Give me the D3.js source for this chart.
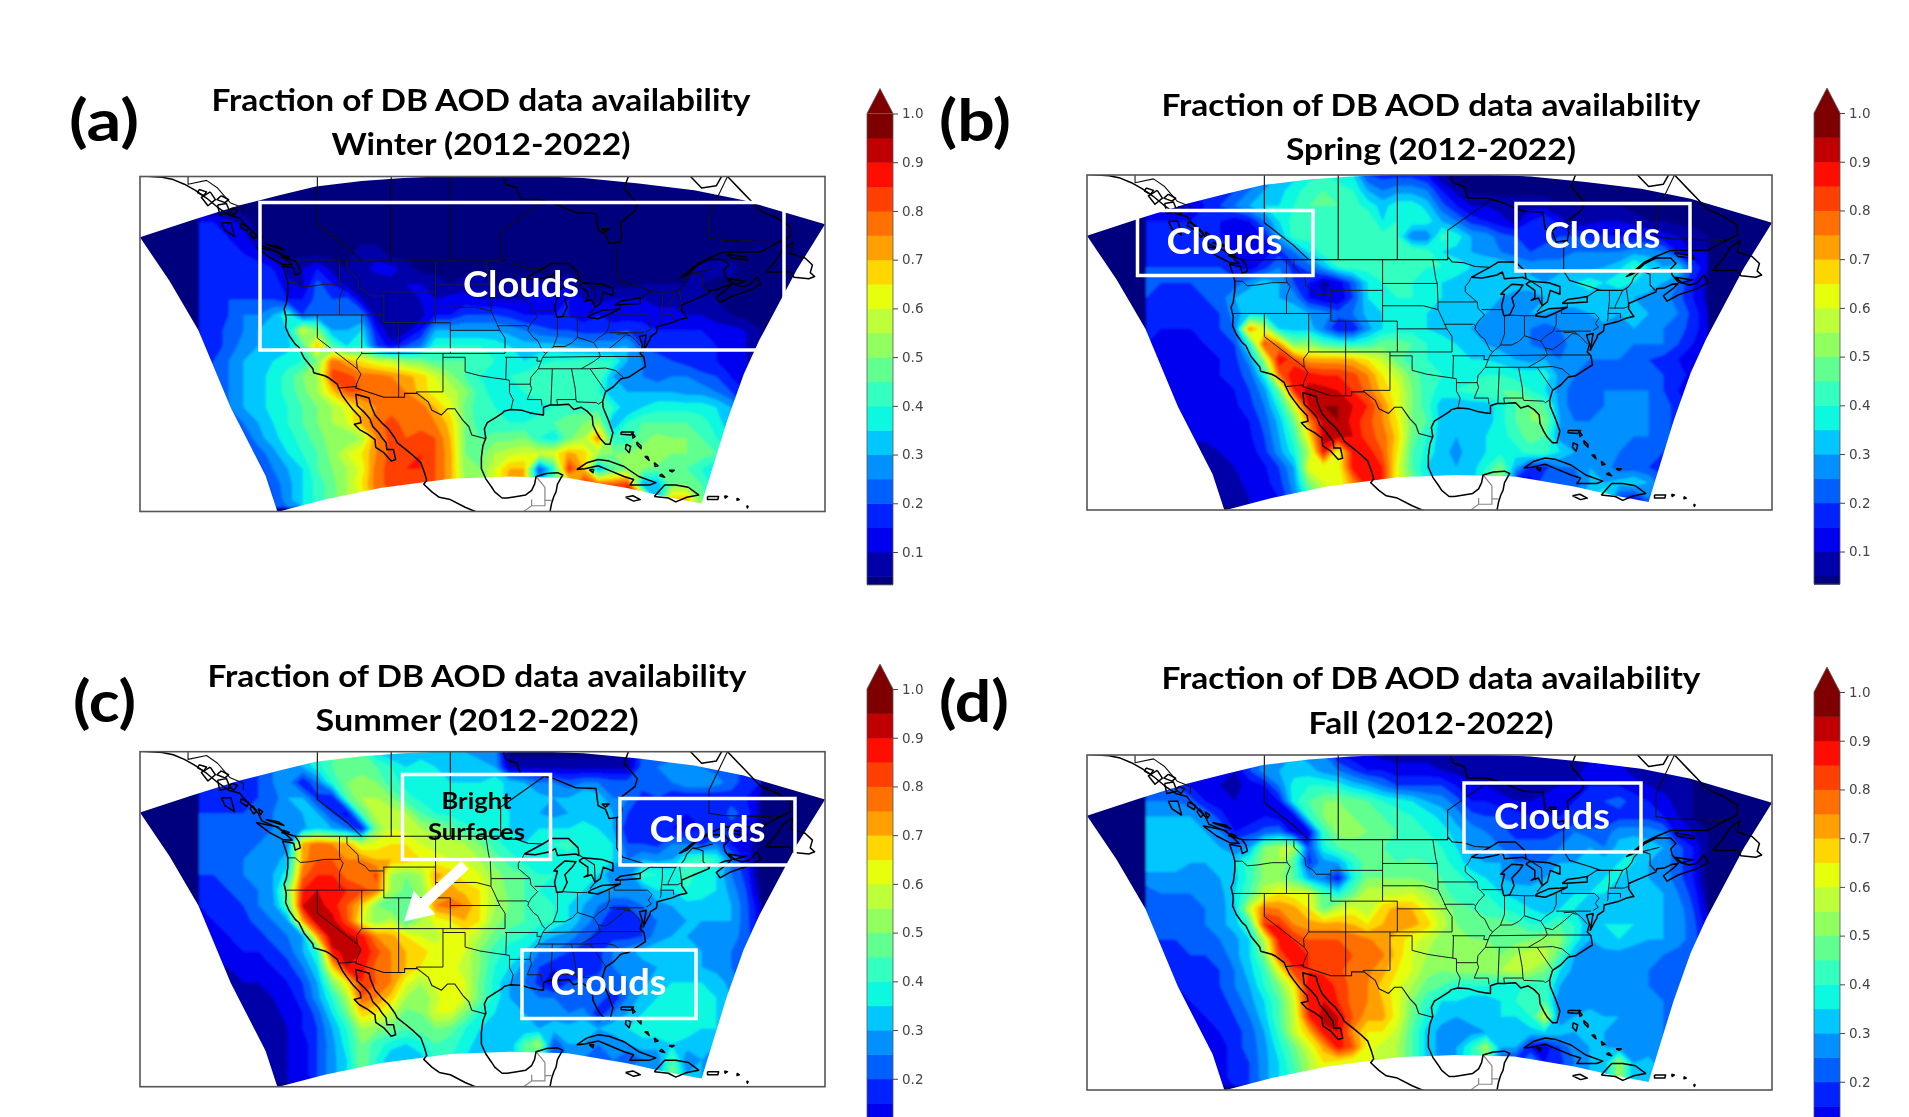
<!DOCTYPE html>
<html><head><meta charset="utf-8">
<script src="https://cdn.jsdelivr.net/npm/d3@7"></script>
<style>html,body{margin:0;padding:0;background:#fff;overflow:hidden}svg{display:block}text{font-family:Lato,"Noto Sans",sans-serif}</style>
</head><body><svg id="c" width="1909" height="1117"></svg>
<script>
// ---------- value grids: availability in hundredths, rows lat 60..18 (2 deg), cols lon -136..-60 (2 deg)
const gridLons = d3.range(-136, -58, 2);
const gridLats = d3.range(60, 16, -2);
const winter = [
[3,3,3,3,3,3,3,3,3,3,3,3,3,3,3,3,3,3,3,3,3,3,3,3,3,3,3,3,3,3,3,3,3,3,3,3,3,3,3],
[3,3,3,3,3,3,3,3,3,3,3,3,3,3,3,3,3,3,3,3,3,3,3,3,3,3,3,3,3,3,3,3,3,3,3,3,3,3,3],
[3,3,3,3,3,3,3,3,3,3,3,3,3,3,3,3,3,3,3,3,3,3,3,3,3,3,3,3,3,3,3,3,3,3,3,3,3,3,3],
[15,15,12,8,3,3,3,3,3,3,3,3,3,3,3,3,3,3,3,3,3,3,3,3,3,3,3,3,3,3,3,3,3,3,3,3,3,3,3],
[15,15,15,12,5,3,3,3,3,3,3,3,3,3,3,3,3,3,3,3,3,3,3,3,3,3,3,3,3,3,3,3,3,3,3,3,3,3,3],
[15,15,15,15,12,5,3,3,3,3,3,8,8,3,3,3,3,3,3,3,3,3,3,3,3,3,3,3,3,3,3,3,3,3,3,3,3,3,3],
[15,17,18,18,18,15,8,10,15,8,5,8,12,12,8,3,3,3,3,3,3,3,3,3,3,3,3,3,3,3,3,3,3,3,7,7,7,3,3],
[15,17,18,18,18,18,12,8,22,15,8,5,5,8,10,10,8,5,8,8,5,5,8,10,5,10,5,3,3,3,5,5,5,5,5,3,3,3,3],
[15,17,20,20,20,20,15,15,22,20,22,10,5,5,5,10,10,12,12,10,10,10,10,10,12,15,10,8,10,10,10,8,8,8,5,5,3,3,3],
[15,17,20,25,25,30,40,20,25,25,25,25,8,5,5,8,15,15,20,20,20,18,15,15,15,15,12,15,12,12,12,12,12,10,10,8,5,3,3],
[15,17,22,25,30,30,35,60,50,30,30,35,15,5,8,15,30,30,30,30,30,28,25,22,20,20,18,18,18,20,18,15,15,15,15,12,12,10,5],
[15,17,22,27,30,32,33,45,70,45,35,40,20,12,20,25,40,40,40,40,38,35,32,32,32,30,28,28,28,30,20,18,18,15,15,15,12,10,5],
[18,20,25,30,32,35,38,40,50,78,72,65,60,58,52,50,45,45,45,42,40,37,35,38,40,40,42,40,40,30,25,22,20,18,15,15,12,10,8],
[20,22,25,30,33,37,42,50,55,82,82,78,78,75,72,68,60,52,45,40,38,40,42,45,45,45,45,45,30,28,25,22,25,25,22,20,15,12,10],
[20,22,25,30,33,37,42,48,55,68,80,80,80,78,75,68,62,58,52,42,38,38,40,42,42,42,42,40,30,30,30,30,30,28,28,25,20,15,12],
[20,20,25,30,33,37,40,45,50,55,62,70,75,78,78,78,70,62,48,42,40,38,38,38,40,42,42,42,40,30,35,38,38,38,38,35,30,20,15],
[15,18,20,25,30,35,40,45,50,55,60,72,78,82,78,78,75,68,50,42,40,40,40,42,45,48,50,55,30,40,45,45,45,45,42,38,30,25,15],
[10,12,15,20,28,33,38,42,48,52,50,55,75,82,80,82,80,70,50,45,48,48,50,40,35,48,55,75,40,42,48,52,50,50,45,40,35,25,15],
[8,10,12,15,22,28,35,40,45,52,60,65,75,82,82,85,80,72,50,48,55,58,60,60,62,72,68,55,50,50,52,55,50,50,48,45,40,30,20],
[5,8,10,12,18,25,30,35,45,50,55,62,78,82,85,85,80,72,52,50,60,70,70,20,40,85,70,30,45,50,50,48,45,45,40,35,30,20,15],
[3,5,8,10,15,22,28,35,42,48,55,65,78,82,82,82,80,72,55,50,60,75,70,30,50,60,85,80,80,85,30,30,50,50,45,35,30,20,15],
[3,5,8,10,15,20,28,35,42,48,55,60,75,78,78,78,75,70,55,50,60,75,70,30,50,60,70,80,85,85,85,30,70,70,50,35,30,20,15]
];
const spring = [
[15,15,15,15,15,15,15,20,25,30,33,38,40,38,35,20,18,18,18,15,5,3,3,3,3,3,3,3,3,3,3,3,3,3,3,3,3,3,3],
[10,12,15,15,15,15,20,25,30,33,38,42,45,42,40,30,25,28,28,25,15,8,3,3,3,3,3,3,3,3,3,3,3,3,3,3,3,3,3],
[10,12,12,12,15,20,25,30,35,35,40,45,45,45,42,38,33,38,38,33,22,15,10,10,8,8,8,8,5,5,5,5,5,3,3,3,3,3,3],
[15,15,15,15,15,15,12,15,25,35,42,42,42,42,42,45,35,40,38,38,30,25,18,15,12,8,15,20,12,5,8,10,10,8,5,5,3,3,3],
[15,15,18,18,18,15,12,8,15,30,42,42,42,42,42,42,42,40,25,25,42,38,30,28,22,20,18,18,20,20,18,15,15,15,15,12,10,8,5],
[18,18,18,18,18,18,15,10,12,18,25,35,42,42,42,45,42,42,45,42,35,33,30,28,25,22,20,22,22,25,25,25,25,28,28,25,15,10,10],
[20,20,20,20,20,20,15,12,18,25,18,22,30,40,42,42,42,42,42,40,40,38,35,35,35,32,28,28,28,28,28,30,33,42,35,30,35,20,10],
[20,20,20,20,22,22,22,28,33,30,20,15,8,12,22,35,40,40,40,38,35,33,33,32,30,32,32,30,33,35,38,35,38,35,33,30,25,15,8],
[20,18,18,18,20,22,30,33,33,30,28,15,10,10,20,35,38,40,40,38,35,33,33,30,30,28,28,30,33,33,32,32,30,30,28,28,22,15,8],
[18,15,15,15,18,20,28,33,33,33,33,30,28,22,25,32,35,38,38,35,33,32,30,30,28,30,30,30,28,28,30,33,30,30,30,28,25,18,10],
[15,15,15,15,15,20,25,75,60,35,33,33,25,15,15,28,35,38,38,35,33,30,30,28,25,25,25,22,25,30,28,28,28,30,28,25,22,18,10],
[15,13,13,13,15,18,20,40,82,75,50,52,45,42,40,42,48,48,45,40,38,35,33,30,28,28,25,22,22,28,25,25,25,25,25,25,20,15,10],
[13,13,13,13,13,15,18,28,55,90,82,72,72,72,70,65,58,47,42,40,38,35,35,35,33,30,28,30,25,25,25,25,25,22,20,18,15,12,8],
[13,13,13,13,13,15,18,22,38,78,90,88,85,85,82,75,65,58,48,42,40,38,38,40,40,38,38,38,28,25,22,22,22,22,22,20,18,12,8],
[13,13,13,13,13,14,15,20,28,48,85,92,92,90,85,78,68,62,50,42,38,40,42,45,45,45,40,35,28,22,22,25,25,25,25,20,15,12,8],
[13,13,11,11,12,13,14,18,25,38,60,90,95,95,90,85,75,62,50,42,32,30,32,32,38,45,50,45,28,22,22,25,28,25,25,22,18,12,8],
[11,11,11,11,11,12,13,15,22,32,48,75,92,95,88,82,75,65,50,45,32,30,30,32,38,45,50,50,30,25,25,28,28,28,25,22,18,12,8],
[11,11,11,11,11,11,12,14,20,30,42,65,92,92,90,82,78,68,48,40,32,30,32,35,38,42,48,45,28,25,25,28,25,25,25,22,18,12,8],
[8,8,8,8,8,10,10,12,18,28,38,55,88,62,88,88,80,65,45,38,32,28,33,35,38,38,42,42,35,30,28,30,25,22,22,20,18,12,8],
[5,6,6,6,7,7,10,12,14,20,30,62,62,62,88,90,85,62,45,35,32,30,32,40,50,30,18,18,25,25,30,28,22,22,20,18,15,12,8],
[3,3,5,5,6,6,9,11,13,18,28,50,60,60,75,90,85,62,50,38,32,30,32,45,55,15,12,25,20,22,30,30,32,35,30,22,18,12,8],
[3,3,5,5,5,5,8,10,12,15,25,40,55,60,72,88,85,62,50,38,32,30,32,45,55,15,12,25,20,25,35,45,20,15,25,22,18,12,8]
];
const summer = [
[15,15,15,15,18,22,30,35,40,45,48,45,35,30,30,30,30,30,30,28,28,3,3,3,3,3,3,3,3,3,22,22,22,22,22,20,20,15,15],
[12,12,15,18,20,25,28,30,38,45,48,48,45,40,35,40,35,33,33,32,30,8,8,8,8,8,8,8,8,8,22,25,28,28,25,22,22,18,15],
[15,15,15,15,20,25,28,15,25,40,50,52,50,42,38,38,38,35,35,35,38,33,30,25,25,22,25,25,22,22,22,22,25,30,30,28,22,18,15],
[18,18,18,18,20,22,30,30,18,15,45,55,55,50,42,38,38,38,35,35,38,33,32,32,30,30,35,33,25,25,18,20,15,15,15,15,18,15,8],
[20,20,20,20,22,25,25,30,30,20,12,45,58,58,55,45,40,38,35,35,38,35,32,30,28,30,32,32,30,20,15,15,15,15,15,15,22,18,8],
[20,20,20,20,22,25,25,28,35,30,25,15,50,60,58,55,52,48,42,40,38,35,33,35,35,35,38,35,30,15,18,15,15,12,15,15,18,12,5],
[22,22,22,22,25,25,28,72,78,75,72,58,62,65,65,60,58,58,55,50,42,38,35,38,40,42,38,38,35,20,20,18,25,25,18,25,15,12,3],
[20,20,22,25,25,28,32,72,80,80,75,75,70,70,70,65,62,60,60,55,48,42,38,38,38,38,38,40,35,25,30,28,30,40,45,40,25,15,3],
[20,20,22,25,28,30,38,78,85,85,78,75,82,55,50,55,72,68,62,60,52,48,45,40,40,35,38,35,25,25,42,40,38,42,38,35,25,18,3],
[18,18,20,22,25,30,50,85,90,85,85,82,78,55,48,52,68,72,68,65,55,48,45,40,38,35,35,30,30,30,28,35,35,40,38,35,28,20,5],
[15,15,18,20,25,28,45,90,92,88,80,68,50,45,45,50,75,78,75,65,55,50,45,42,40,35,30,25,20,20,25,28,30,33,33,33,30,22,10],
[12,15,15,18,22,25,30,72,95,92,82,62,52,58,45,55,62,65,70,65,52,48,45,42,40,35,28,22,15,15,20,25,28,30,30,30,30,22,12],
[12,12,15,15,18,22,25,30,72,95,92,88,75,72,65,60,58,62,62,55,48,42,40,35,30,28,22,18,18,18,20,28,30,30,28,28,28,22,15],
[10,12,12,15,15,18,22,30,40,88,92,90,82,75,70,68,62,62,60,50,42,38,35,25,25,20,18,18,25,28,32,33,33,32,30,28,25,20,15],
[10,10,10,12,12,15,18,25,35,68,90,88,78,75,70,65,60,62,58,50,40,35,28,20,15,15,15,18,25,25,28,30,30,33,30,28,25,20,15],
[8,8,8,10,10,12,15,20,30,50,65,85,80,75,62,55,62,65,60,48,38,30,25,18,10,20,22,22,22,25,28,33,35,35,35,33,28,22,15],
[5,5,8,8,8,10,12,18,28,40,55,80,75,68,55,50,58,65,60,48,38,30,28,25,25,22,20,25,15,25,32,35,38,38,38,35,30,22,15],
[5,5,5,5,8,8,12,15,22,35,48,68,65,58,48,50,60,60,50,40,35,32,30,28,28,25,28,15,25,30,35,38,38,38,38,35,30,22,15],
[5,5,5,5,5,8,10,15,20,30,40,55,52,48,45,48,50,48,40,35,32,30,30,30,32,32,33,30,33,35,38,38,38,38,35,35,30,22,15],
[5,5,5,5,5,5,10,12,20,28,38,50,42,38,35,38,45,42,38,32,30,30,45,55,20,30,30,25,25,30,33,33,35,33,30,30,25,20,15],
[3,3,5,5,5,5,10,12,20,28,35,50,40,30,30,33,40,40,35,30,30,30,45,40,20,25,25,22,25,20,25,25,45,25,30,25,22,20,15],
[3,3,5,5,5,5,10,12,20,28,35,48,40,30,30,30,40,38,35,30,30,30,40,40,20,25,25,25,28,30,25,30,50,30,30,25,22,20,15]
];
const fall = [
[15,15,15,15,15,15,15,15,25,28,30,28,25,15,12,10,8,8,8,8,8,5,5,5,5,5,5,5,5,5,8,10,10,8,5,5,3,3,3],
[15,15,12,10,10,10,10,20,28,30,32,32,28,25,20,15,15,12,12,12,10,8,5,5,5,5,5,5,8,8,12,12,12,8,5,5,5,3,3],
[20,22,20,15,12,10,8,12,15,25,38,40,40,38,33,30,25,20,20,20,20,15,12,10,8,8,8,8,10,10,15,15,15,12,10,8,8,5,3],
[25,25,25,22,15,12,10,10,10,15,38,45,50,50,48,45,40,38,35,30,28,22,15,15,12,10,10,12,12,15,15,20,22,18,15,12,8,5,3],
[30,30,30,30,25,18,10,12,15,12,12,40,50,52,50,48,45,42,40,38,33,28,22,20,20,18,15,15,15,15,15,15,18,18,18,15,10,5,3],
[33,33,33,33,30,25,15,18,22,25,12,12,42,52,52,50,48,45,42,40,38,32,28,25,22,18,18,18,20,25,22,22,28,28,28,25,12,10,5],
[33,33,33,33,33,30,25,30,50,55,55,20,38,45,48,48,45,42,40,40,40,35,28,25,25,22,22,22,25,28,30,25,32,35,32,30,22,15,5],
[33,33,33,30,30,35,35,42,52,55,45,18,28,30,40,48,48,45,48,45,42,38,32,30,30,25,25,25,30,30,30,33,35,35,30,28,22,15,3],
[28,28,28,28,28,30,33,42,52,52,45,30,25,15,38,50,50,50,50,48,45,42,38,35,30,28,28,30,32,33,33,35,35,33,30,28,22,15,3],
[22,25,25,25,25,28,35,45,58,65,62,62,45,38,48,58,58,58,60,55,48,42,42,40,35,33,32,33,33,35,35,35,33,33,30,30,25,18,5],
[20,20,22,22,25,28,33,60,78,75,72,65,48,58,62,55,68,72,70,62,55,48,45,42,40,38,35,32,35,35,30,30,30,30,30,30,28,20,8],
[20,20,20,22,25,28,33,42,85,85,75,72,72,72,70,65,70,72,72,68,58,50,48,48,48,45,40,40,45,40,30,35,35,35,33,30,28,22,12],
[20,20,20,20,22,25,28,35,58,88,85,80,80,80,78,76,72,68,62,58,52,50,50,50,48,48,50,52,52,38,30,33,35,33,30,30,28,22,15],
[18,18,18,20,20,22,28,35,50,82,90,85,82,82,80,80,76,68,60,55,52,52,52,50,50,55,58,58,45,30,28,28,28,25,25,25,22,20,15],
[15,15,15,18,18,20,25,33,42,62,84,85,84,82,76,76,72,65,60,52,50,52,52,52,55,58,55,50,35,28,28,25,25,25,25,22,22,20,15],
[12,12,15,15,18,20,25,30,40,50,65,90,88,84,78,75,68,62,55,48,45,40,40,40,38,38,42,42,30,25,25,25,25,25,25,22,22,18,15],
[12,12,12,15,15,18,22,28,35,45,60,88,90,85,78,75,70,62,50,42,35,35,32,32,35,40,42,45,25,25,28,28,28,28,25,25,22,18,15],
[10,12,12,12,15,15,20,25,33,45,58,85,92,90,80,72,72,62,48,38,32,30,32,32,35,35,40,60,25,30,32,30,30,28,28,25,22,18,15],
[8,10,10,10,12,15,18,22,30,42,58,70,88,90,74,65,65,58,45,33,28,28,28,30,33,33,33,35,33,30,30,30,28,28,28,25,22,18,15],
[5,5,8,8,10,12,18,22,28,38,48,60,72,88,80,62,58,55,45,33,28,30,40,55,30,30,15,12,20,28,30,30,28,28,25,25,22,18,15],
[3,5,5,8,10,12,18,20,28,35,45,55,65,62,60,62,58,55,45,33,28,30,42,45,20,15,30,15,18,25,30,30,55,30,33,25,22,18,15],
[3,5,5,8,10,12,18,20,28,35,42,55,62,62,60,60,58,55,45,33,28,30,40,45,20,25,30,28,25,28,30,30,55,30,33,25,22,18,15]
];
// ---------- colour levels and tick labels
const levelEdges = [0.033,0.05,0.10,0.15,0.20,0.25,0.30,0.35,0.40,0.45,0.50,0.55,0.60,0.65,0.70,0.75,0.80,0.85,0.90,0.95];
const levelColors = ["#00007f","#0000a8","#0000f1","#0020ff","#0060ff","#0090ff","#00c8ff","#10f8e0","#30ffc0","#60ff90","#90ff60","#bdff39","#e6ff0e","#ffd700","#ffa000","#ff7000","#ff4000","#ff1000","#c00000","#7f0000"];
const tickValues = [0.1,0.2,0.3,0.4,0.5,0.6,0.7,0.8,0.9,1.0];
// ---------- domain outline (lon,lat)
const domainEdge = [[-144,52.1],[-137,54.3],[-130.5,56.25],[-125,57.6],[-120.2,58.7],[-114,59.4],[-108.3,59.8],[-102,60.05],[-96,60.15],[-90.8,60.05],[-84,59.8],[-76.5,59.1],[-69,58.2],[-62.3,56.9],[-51.3,53.8],[-55.1,47.9],[-60.2,38.7],[-62.3,34.3],[-64.6,28.1],[-68,17.5],[-73,18.4],[-78.1,19.5],[-86.1,20.8],[-94,21],[-102,20.7],[-111.5,19.5],[-119,18],[-125.4,16.4],[-127,21.1],[-131.7,29.9],[-136.1,40],[-140,46.4],[-144,52.1]];
// ---------- geography polylines (lon,lat)
const coast = [
[[-147,60.8],[-144,60.1],[-141,59.9],[-139.5,59.6],[-138,59],[-136.5,58.2],[-135,57.2],[-133.5,56],[-132,55],[-130.5,54.6],[-130,54],[-129,53],[-128,52],[-127.5,51],[-125.5,50.2],[-124,49.3],[-123,49],[-122.5,48.3],[-122.3,47.5],[-123,47.2],[-123.2,48.1],[-124.7,48.4],[-124.2,47],[-124,46.2],[-124,45],[-124.2,43.5],[-124.5,42.8],[-124.2,41.5],[-124.3,40.4],[-123.8,39.3],[-123,38.2],[-122.5,37.8],[-122,36.8],[-121.8,36.4],[-120.6,35],[-120.5,34.5],[-119,34.1],[-118.4,33.8],[-117.3,33],[-117.1,32.5],[-116.6,31.5],[-116,30.7],[-115.2,29.7],[-114.2,28.7],[-114.1,28],[-115,27.8],[-114.3,27.1],[-113.2,26.5],[-112.2,25.8],[-112.1,24.8],[-111,24.1],[-110,23],[-109.4,23.2],[-109.7,24.5],[-110.6,24.5],[-110.7,25.4],[-111.3,26.1],[-111.7,26.7],[-112.5,27.5],[-112.9,28.5],[-113.6,29.3],[-114.6,30.2],[-114.8,31.7],[-113,31.2],[-112.8,30.4],[-112.2,29],[-111.2,27.9],[-110.4,27.2],[-109.5,26],[-109.2,25.4],[-108,24.5],[-107,23.7],[-106,22.8],[-105.5,21.5],[-105.2,20.5],[-105.6,20],[-104.5,19],[-103.5,18.3],[-102,18],[-100,17],[-98,16.2]],
[[-88.6,16],[-88.3,17.5],[-88,18.4],[-87.7,19],[-87.5,20],[-86.8,21.2],[-87.5,21.5],[-89,21.4],[-90.4,21],[-90.6,20],[-91,19.2],[-91.8,18.6],[-93,18.4],[-94.3,18.2],[-95,18.2],[-96,19],[-96.4,19.6],[-97.2,20.7],[-97.8,22],[-97.8,23.5],[-97.6,25],[-97.2,26],[-97.4,27.2],[-97,28],[-96,28.6],[-95,29.2],[-94.7,29.5],[-93.8,29.7],[-92.3,29.6],[-91.3,29.3],[-90.2,29.1],[-89.4,29],[-89.4,30],[-88.5,30.3],[-87.5,30.3],[-86,30.4],[-85.3,29.7],[-84.3,30],[-83.5,29.5],[-82.8,28.8],[-82.7,27.7],[-82.2,26.7],[-81.7,25.9],[-81,25.2],[-80.4,25.2],[-80,26.7],[-80.6,28.3],[-81.3,29.9],[-81.4,30.7],[-81,32],[-79.9,32.7],[-78.9,33.7],[-77.9,33.9],[-76.6,34.7],[-75.6,35.3],[-75.8,36.5],[-76.3,37],[-76,38],[-76.4,39.2],[-75.5,39.4],[-75.9,37.2],[-75.2,38.5],[-75,38.8],[-74.9,39.2],[-74.1,39.7],[-74,40.5],[-72,41],[-71,41.4],[-70,41.6],[-70.7,42.6],[-70.7,43.3],[-69,44],[-67,44.8],[-66.9,45.2],[-65.9,45.3],[-64.8,45.8],[-64,45.9],[-64.5,45.4],[-66,44.3],[-65.5,43.6],[-64,44.4],[-61.5,45.2],[-60,46],[-60.5,47],[-61.5,45.9],[-62.5,45.7],[-64,46.1],[-64.8,47],[-65,47.8],[-64.3,48.5],[-65,49.2],[-67,49.2],[-68.5,48.5],[-70,47.2],[-71,46.8],[-70,47.5],[-68.5,48.7],[-67,49.4],[-65,50.2],[-60,50.2],[-57.5,51.5],[-56,52.2],[-56,53.5],[-58,54.7],[-60,55.5],[-61.5,57],[-62.5,58],[-64,59.5],[-65,60.5],[-66,58.8],[-68,58.5],[-70,60.5]],
[[-95,60.5],[-94.5,59],[-93,58.5],[-92.5,57],[-90,57],[-88,56.5],[-85,55.3],[-82.3,55.2],[-82,53],[-81,52.5],[-80.5,51.3],[-79,51.5],[-78.8,52.5],[-79,54],[-77,55.5],[-76.7,56.5],[-78.5,58.5],[-77.7,60.5]],
[[-81.5,53.2],[-80.5,53.2],[-81,52.8],[-81.5,53.2]],
[[-59.3,47.6],[-58,49],[-57,50.5],[-55.6,51.5],[-56,50],[-54,49.4],[-53,48.5],[-53.3,47.5],[-52.7,47],[-53.5,46.7],[-55.5,46.9],[-56,47.6],[-59.3,47.6]],
[[-128.3,50.8],[-125.3,50.2],[-123.4,48.5],[-124.7,48.6],[-126.5,49.5],[-128.3,50.8]],
[[-133,54],[-131.7,54],[-131.2,52.2],[-132.5,53],[-133,54]],
[[-134.5,58],[-133.8,57],[-134.8,56.2],[-135.7,57.3],[-134.5,58]],
[[-133.5,56.3],[-132.3,56.5],[-131.8,55.3],[-133.2,55],[-133.5,56.3]],
[[-136,58.3],[-135,58],[-135.4,57.5],[-136.2,57.9],[-136,58.3]],
[[-133,57.5],[-132,57],[-132.5,56.6],[-133.6,57],[-133,57.5]],
[[-131.5,55.9],[-130.8,55.6],[-131.3,55],[-132,55.5],[-131.5,55.9]],
[[-130.3,53.9],[-129.3,53.4],[-129.5,52.9],[-130.4,53.4],[-130.3,53.9]],
[[-128.8,53],[-128.2,52.3],[-128.6,51.9],[-129.1,52.6],[-128.8,53]],
[[-128,52.6],[-127.4,52.2],[-127.7,51.8],[-128,52.6]],
[[-127,51.2],[-125.8,50.8],[-124.5,50.4],[-125.3,50.9],[-127,51.2]],
[[-124.6,49.8],[-123.8,49.5],[-124.2,49.3],[-124.8,49.5],[-124.6,49.8]],
[[-64.5,49.9],[-62,49.5],[-61.8,49.1],[-64,49.4],[-64.5,49.9]],
[[-64.4,46.7],[-62.5,46.4],[-62,46.4],[-63.5,46],[-64.4,46.7]],
[[-92,46.7],[-90.5,46.6],[-88.5,47],[-87.8,47.4],[-87.5,46.5],[-85,46.7],[-84.6,46.5],[-84.7,47.5],[-86,48.7],[-88.3,48.7],[-89.5,48],[-92,46.7]],
[[-87.6,41.7],[-86.8,41.8],[-86.2,43],[-86.5,44],[-85.5,45],[-85,45.7],[-86.5,45.8],[-87.5,45],[-88,44.5],[-87.5,44.5],[-87.9,43],[-87.6,41.7]],
[[-84.6,45.8],[-83.4,45],[-83.4,44],[-83.9,43.7],[-82.9,44],[-82.4,43],[-81.7,43.5],[-81.3,45],[-80,44.5],[-80,45.5],[-81.5,46],[-84,46.2],[-84.6,45.8]],
[[-83.4,41.7],[-82,41.5],[-81,41.9],[-79,42.8],[-80,42.7],[-81.5,42.6],[-83,42],[-83.4,41.7]],
[[-79.7,43.3],[-78,43.4],[-76.3,43.5],[-76.3,44.2],[-77.5,44],[-79,43.8],[-79.7,43.3]],
[[-84.9,21.9],[-83.5,22.8],[-82,23.2],[-80.5,23],[-78.5,22.3],[-76.5,21],[-74.2,20.2],[-75,19.9],[-77.7,19.9],[-77.2,20.6],[-78.5,21],[-80.5,21.8],[-82,22.4],[-83.8,22],[-84.9,21.9]],
[[-83.2,21.9],[-82.6,21.9],[-82.7,21.5],[-83.2,21.9]],
[[-74.4,18.4],[-73,19.9],[-71.5,19.9],[-69.8,19.6],[-68.4,18.6],[-70,18.3],[-71.5,17.7],[-72.5,18.2],[-74.4,18.4]],
[[-78.3,18.3],[-77.3,18.5],[-76.3,18],[-77.2,17.8],[-78.3,18.3]],
[[-67.2,18.4],[-65.7,18.4],[-65.8,18],[-67.2,18],[-67.2,18.4]],
[[-78.9,26.8],[-77.2,26.8],[-77.6,26.4],[-78.9,26.5],[-78.9,26.8]],
[[-77.4,26.7],[-77,26.2],[-77.3,26],[-77.4,26.7]],
[[-78.2,25.2],[-77.6,24.9],[-77.8,24.1],[-78.3,24.6],[-78.2,25.2]],
[[-76.8,25.5],[-76.2,25],[-76.2,24.6],[-76.7,25.1],[-76.8,25.5]],
[[-75.7,23.6],[-75.1,23.1],[-75.3,23.6],[-75.7,23.6]],
[[-74.4,22.8],[-73.9,22.4],[-74.3,22.3],[-74.4,22.8]],
[[-73.7,21.1],[-73,20.9],[-73.4,21.3],[-73.7,21.1]],
[[-72.4,21.8],[-71.7,21.8],[-72,21.6],[-72.4,21.8]],
[[-61.9,17.2],[-61.7,17.1],[-61.8,16.9],[-61.9,17.2]],
[[-63.2,18.2],[-62.9,18],[-63.2,17.9],[-63.2,18.2]],
[[-61.7,16.4],[-61.2,16.3],[-61.5,16],[-61.7,16.4]],
[[-64.9,18.5],[-64.5,18.4],[-64.8,18.2],[-64.9,18.5]]
];
const countryLines = [
[[-123,49],[-95.2,49],[-95.2,49.4],[-94.6,48.7],[-93,48.6],[-91.5,48.1],[-89.6,48]],
[[-84.5,46.5],[-83.6,46],[-82.5,45.3],[-82.4,43],[-83.1,42.2]],
[[-79,42.8],[-79,43.3]],
[[-76.3,44.2],[-75,45],[-71.5,45],[-70.8,45.4],[-70.3,46],[-70,46.7],[-69.2,47.5],[-68.3,47.3],[-67.8,47.1],[-67.8,45.7],[-67.4,45.3],[-67,44.9]],
[[-141,60.5],[-141,60]],
[[-137.5,60.5],[-137.5,59],[-135,59.5],[-133.5,58.5],[-131.8,56.6],[-130,55.9],[-130,55]],
[[-117.1,32.5],[-114.7,32.7],[-114.8,32.5],[-111,31.3],[-108.2,31.3],[-108.2,31.8],[-106.5,31.8],[-105,30.7],[-104.5,29.6],[-103.2,29],[-102.4,29.8],[-101.4,29.8],[-100.3,28.3],[-99.5,27.5],[-99.1,26.4],[-97.2,25.9]],
[[-120,60.5],[-120,53.8],[-116,50.8],[-114,49]],
[[-110,60.5],[-110,49]],
[[-102,60.5],[-102,49]],
[[-89,57],[-95.2,52.8],[-95.2,49.4]],
[[-79.5,51.5],[-79.5,47.5],[-78.7,46.3],[-76,45.5],[-74.5,45]],
[[-57,51.5],[-65,51.7],[-67,52],[-67,55],[-64.5,60]],
[[-69,47.4],[-66.5,48]]
];
const stateLines = [
[[-124,46.2],[-123,46.2],[-122.3,45.6],[-121,45.7],[-119,46],[-116.9,46]],
[[-117,49],[-117,46.4],[-116.9,46],[-116.5,45.5],[-117,44.3],[-117,42]],
[[-124.2,42],[-111,42]],
[[-120,42],[-120,39],[-114.6,35],[-114.1,34.3],[-114.7,33],[-114.7,32.7]],
[[-114,42],[-114,37],[-114.7,36.1],[-114.6,35]],
[[-114,37],[-102,37]],[[-102,37],[-94.6,37]],
[[-109,41],[-109,31.3]],
[[-116,49],[-116,48],[-114.5,46.6],[-114.4,45.6],[-113.5,45.1],[-113,44.5],[-111.1,44.5]],
[[-111,45],[-111,41],[-102,41]],
[[-111.1,45],[-104,45]],
[[-104,49],[-104,41]],
[[-104,45.9],[-96.6,45.9]],
[[-104,43],[-98.5,43],[-96.5,42.5]],
[[-102,40],[-95.3,40]],
[[-102,41],[-102,37]],
[[-103,37],[-103,32],[-106.6,32],[-106.5,31.8]],
[[-103,36.5],[-100,36.5],[-100,34.6],[-98,34.1],[-96,33.8],[-94.5,33.6],[-94,33.5],[-94,31.9],[-93.5,31],[-93.8,29.7]],
[[-94.4,36.5],[-94.5,33.6]],
[[-94.6,37],[-94.6,39],[-95.3,40]],
[[-94.6,36.5],[-90.2,36.5],[-90.3,36],[-89.7,36]],
[[-89.5,36.5],[-81.7,36.6],[-75.9,36.6]],
[[-94,33],[-91.2,33]],
[[-97.2,49],[-96.8,46.5],[-96.6,45.9],[-96.5,43.5],[-96.5,42.5],[-96,41.5],[-95.3,40]],
[[-96.5,43.5],[-91.2,43.5]],
[[-95.7,40.6],[-91.7,40.6],[-91.4,40.4]],
[[-92,46.7],[-92.3,46.1],[-92.8,45.5],[-92.8,44.8],[-91.2,43.5],[-91.1,42.7],[-90.2,41.8],[-91,41],[-91.4,40.4],[-91.5,40],[-90.7,39],[-90.2,38.7],[-89.5,37.3],[-89.1,37],[-89.5,36.5],[-89.7,36],[-90.1,35],[-91.1,33.9],[-91.2,33],[-91,32.4],[-91.6,31],[-89.7,31],[-89.6,30.2]],
[[-90.6,42.5],[-87.8,42.5]],
[[-87.5,41.7],[-87.5,39.3],[-88,38],[-88.1,37.8]],
[[-89.1,37],[-88,37.9],[-86.5,37.9],[-85.5,38.4],[-84.8,39.1],[-83.5,38.7],[-82.6,38.4],[-82,39],[-80.9,39.7],[-80.5,40.6],[-80.5,42]],
[[-84.8,39.1],[-84.8,41.7]],
[[-87,41.8],[-84.8,41.7],[-83.5,41.7]],
[[-79.8,42.3],[-79.8,42],[-75.3,42],[-74.7,41.4],[-75.2,40.7],[-74.8,40.2],[-75.5,39.8]],
[[-80.5,39.7],[-75.8,39.7]],
[[-82.6,38.4],[-82,37.5],[-81.7,36.6]],
[[-82,37.5],[-81,37.3],[-80,38],[-79,38.8],[-78.3,39.4],[-77.7,39.3]],
[[-79.5,39.5],[-78,39.6],[-77,38.8],[-76.3,38]],
[[-84.3,35],[-82.5,36],[-81.7,36.6]],
[[-90.1,35],[-84.3,35],[-83.1,35],[-81,35.1],[-79.7,34.8],[-78.6,33.9]],
[[-83.1,35],[-81,32.1]],
[[-85.6,35],[-85.1,32.4],[-85,31]],
[[-87.6,31],[-85,31],[-84.9,30.7],[-82.2,30.6],[-82,30.4],[-81.5,30.7]],
[[-88.2,35],[-88.4,30.3]],
[[-87.6,31],[-87.5,30.3]],
[[-73.3,45],[-73.3,43.6],[-73.5,42],[-73.5,41.3],[-73.6,41]],
[[-73.5,42],[-71.8,42],[-71.8,41.4]],
[[-73.3,42.7],[-71.3,42.7],[-70.8,42.9]],
[[-71.5,45],[-72.5,43],[-72.5,42.7]],
[[-71,45.3],[-70.7,43.1]]
];
const centralAmericaLines = [
[[-91,18],[-91,17.2],[-89.2,17.2],[-89.2,17.9],[-88.3,17.9]],
[[-90.4,21],[-89.2,19.6],[-89.2,17.9]],
[[-92,16.5],[-91,17.2]]
];
// ---------- panels
const panels = [
{season:"Winter",letter:"(a)",values:winter,fx:140,fy:176.5,cx:481,t1:110.5,t2:154.5,tw:299,bx:867,tick1:113.5,lx:69,lw:70,ly:141,
 boxes:[{x0:260,y0:202.5,x1:784,y1:350,tx:521,tb:296.5}]},
{season:"Spring",letter:"(b)",values:spring,fx:1087,fy:175,cx:1431,t1:115.5,t2:159.5,tw:290,bx:1814,tick1:113,lx:939,lw:72,ly:141,
 boxes:[{x0:1137.5,y0:210.5,x1:1313,y1:275.5,tx:1224.5,tb:253.5},{x0:1516,y0:203.5,x1:1690,y1:271,tx:1602.5,tb:248}]},
{season:"Summer",letter:"(c)",values:summer,fx:140,fy:751.7,cx:477,t1:686.7,t2:730.7,tw:323,bx:867,tick1:689,lx:73,lw:63,ly:722,
 boxes:[{x0:402.5,y0:774.5,x1:550.5,y1:859.5,txt:["Bright","Surfaces"]},{x0:620,y0:798.5,x1:795,y1:865,tx:707.5,tb:841.5},{x0:522,y0:950,x1:696,y1:1018.5,tx:608.5,tb:995}],
 arrow:[465,865,404,921.5]},
{season:"Fall",letter:"(d)",values:fall,fx:1087,fy:755,cx:1431,t1:689,t2:733.5,tw:245,bx:1814,tick1:692,lx:939,lw:70,ly:722,
 boxes:[{x0:1464,y0:783,x1:1641,y1:852,tx:1552,tb:828.5}]}
];
const lonToX = d3.scaleLinear().domain([-144,-51.3]).range([0,685]);
const latToY = d3.scaleLinear().domain([60,16.45]).range([0,335]);
const gridX = d3.scaleLinear().domain([0.5,gridLons.length-0.5]).range([gridLons[0],gridLons[gridLons.length-1]]);
const gridY = d3.scaleLinear().domain([0.5,gridLats.length-0.5]).range([gridLats[0],gridLats[gridLats.length-1]]);
const svg = d3.select("#c");
const defs = svg.append("defs");
defs.append("filter").attr("id","soft").attr("x","-5%").attr("y","-5%").attr("width","110%").attr("height","110%").append("feGaussianBlur").attr("stdDeviation",1.3);
defs.append("filter").attr("id","soft2").attr("x","-5%").attr("y","-5%").attr("width","110%").attr("height","110%").append("feGaussianBlur").attr("stdDeviation",0.55);
const geoLine = d3.line().x(d=>lonToX(d[0])).y(d=>latToY(d[1]));
const toLonLat = d3.geoTransform({point(x,y){this.stream.point(lonToX(gridX(x)),latToY(gridY(y)));}});
const contourPath = d3.geoPath(toLonLat);
const thresholds = levelEdges.slice(1);
const contours = d3.contours().size([gridLons.length,gridLats.length]).smooth(true).thresholds(thresholds);

panels.forEach((p,pi)=>{
  const g = svg.append("g").attr("transform",`translate(${p.fx},${p.fy})`);
  defs.append("clipPath").attr("id","frame"+pi).append("rect").attr("width",685).attr("height",335);
  defs.append("clipPath").attr("id","wedge"+pi).append("path").attr("d",geoLine(domainEdge)+"Z");
  defs.append("clipPath").attr("id","strip"+pi).append("rect").attr("x",lonToX(-136)).attr("width",lonToX(-60)-lonToX(-136)).attr("y",-10).attr("height",360);
  const framed = g.append("g").attr("clip-path",`url(#frame${pi})`);
  const wedge = framed.append("g").attr("clip-path",`url(#wedge${pi})`);
  const soft = wedge.append("g").attr("filter","url(#soft)");
  soft.append("rect").attr("x",-10).attr("y",-10).attr("width",705).attr("height",355).attr("fill",levelColors[0]);
  const flat = p.values.flatMap(r=>gridLons.map((_,i)=>(r[i]??3)/100));
  soft.append("g").attr("clip-path",`url(#strip${pi})`).selectAll("path").data(contours(flat)).join("path")
    .attr("d",contourPath).attr("fill",(d,i)=>levelColors[i+1]);
  const lines = framed.append("g").attr("fill","none").attr("filter","url(#soft2)").attr("stroke-linejoin","round");
  lines.selectAll("path.s").data(stateLines).join("path").attr("class","s").attr("d",geoLine).attr("stroke","#1c1c1c").attr("stroke-width",1);
  lines.selectAll("path.ca").data(centralAmericaLines).join("path").attr("class","ca").attr("d",geoLine).attr("stroke","#888").attr("stroke-width",1.2);
  lines.selectAll("path.b").data(countryLines).join("path").attr("class","b").attr("d",geoLine).attr("stroke","#111").attr("stroke-width",1.1);
  lines.selectAll("path.c").data(coast).join("path").attr("class","c").attr("d",geoLine).attr("stroke","#000").attr("stroke-width",1.5);
  g.append("rect").attr("width",685).attr("height",335).attr("fill","none").attr("stroke","#555").attr("stroke-width",1.6);

  // colorbar
  const barY = d3.scaleLinear().domain([1,0.1]).range([p.tick1,p.tick1+438.5]);
  const cb = svg.append("g").attr("filter","url(#soft2)");
  cb.selectAll("rect").data(levelEdges).join("rect").attr("x",p.bx).attr("width",26)
    .attr("y",(d,i)=>barY(i<levelEdges.length-1?levelEdges[i+1]:1)).attr("height",(d,i)=>barY(d)-barY(i<levelEdges.length-1?levelEdges[i+1]:1)+0.5)
    .attr("fill",(d,i)=>levelColors[i]);
  const bottom = barY(levelEdges[0]);
  cb.append("path").attr("d",`M${p.bx},${p.tick1}L${p.bx+13},${p.tick1-25}L${p.bx+26},${p.tick1}Z`).attr("fill",levelColors[19]);
  cb.append("path").attr("d",`M${p.bx},${bottom}L${p.bx},${p.tick1}L${p.bx+13},${p.tick1-25}L${p.bx+26},${p.tick1}L${p.bx+26},${bottom}Z`).attr("fill","none").attr("stroke","#555").attr("stroke-width",0.8);
  const axis = d3.axisRight(barY).tickValues(tickValues.filter(t=>barY(t)<1105)).tickFormat(d3.format(".1f")).tickSize(5).tickPadding(4);
  const ax = cb.append("g").attr("transform",`translate(${p.bx+26},0)`).call(axis);
  ax.select(".domain").remove();
  ax.selectAll("line").attr("stroke","#444").attr("stroke-width",1);
  ax.selectAll("text").attr("fill","#444").style("font-family","'DejaVu Sans'").style("font-size","13.5px");

  // titles
  const txt = svg.append("g").attr("filter","url(#soft2)");
  const hd = (s,x,y,w,size,fill)=>txt.append("text").attr("x",x).attr("y",y).attr("text-anchor","middle")
     .attr("font-size",size).attr("font-weight",700).attr("fill",fill||"#000").attr("textLength",w).attr("lengthAdjust","spacingAndGlyphs").text(s);
  hd("Fraction of DB AOD data availability",p.cx,p.t1,539,30);
  hd(`${p.season} (2012-2022)`,p.cx,p.t2,p.tw,30);
  hd(p.letter,p.lx+p.lw/2,p.ly,p.lw,58);

  // annotation boxes
  const ann = svg.append("g").attr("filter","url(#soft2)");
  p.boxes.forEach(b=>{
    ann.append("rect").attr("x",b.x0).attr("y",b.y0).attr("width",b.x1-b.x0).attr("height",b.y1-b.y0).attr("fill","none").attr("stroke","#fff").attr("stroke-width",3.5);
    if(b.txt){
      ann.append("text").attr("x",(b.x0+b.x1)/2).attr("y",808.5).attr("text-anchor","middle").attr("font-size",23).attr("font-weight",700).attr("textLength",70).attr("lengthAdjust","spacingAndGlyphs").text(b.txt[0]);
      ann.append("text").attr("x",(b.x0+b.x1)/2).attr("y",840).attr("text-anchor","middle").attr("font-size",23).attr("font-weight",700).attr("textLength",97).attr("lengthAdjust","spacingAndGlyphs").text(b.txt[1]);
    } else {
      ann.append("text").attr("x",b.tx).attr("y",b.tb).attr("text-anchor","middle").attr("font-size",36).attr("font-weight",700).attr("fill","#fff").attr("textLength",116).attr("lengthAdjust","spacingAndGlyphs").text("Clouds");
    }
  });
  if(p.arrow){
    const [x0,y0,x1,y1]=p.arrow, a=Math.atan2(y1-y0,x1-x0), L=Math.hypot(x1-x0,y1-y0), hw=16, sw=5.5, hl=28;
    const pts=[[0,-sw],[L-hl,-sw],[L-hl,-hw],[L,0],[L-hl,hw],[L-hl,sw],[0,sw]].map(([u,v])=>[x0+u*Math.cos(a)-v*Math.sin(a),y0+u*Math.sin(a)+v*Math.cos(a)]);
    ann.append("polygon").attr("points",pts.map(q=>q.join(",")).join(" ")).attr("fill","#fff");
  }
});
</script></body></html>
